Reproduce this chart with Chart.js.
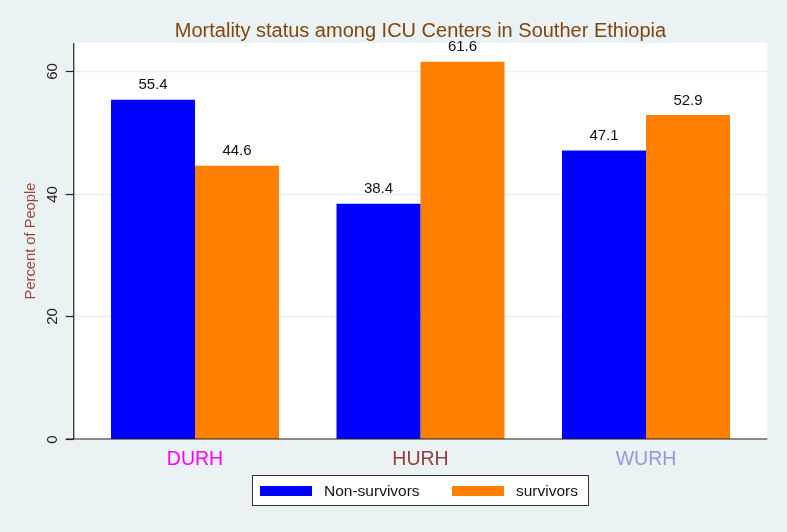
<!DOCTYPE html>
<html>
<head>
<meta charset="utf-8">
<script src="https://cdn.jsdelivr.net/npm/chart.js@4.4.0/dist/chart.umd.min.js"></script>
<style>
  html, body { margin: 0; padding: 0; background: #eaf2f3; }
  #wrap { width: 787px; height: 532px; }
</style>
</head>
<body>
<div id="wrap"><canvas id="chart"></canvas></div>
<script>
var centers = ['DURH', 'HURH', 'WURH'];
var centerColors = ['#ff00ff', '#8f3f3f', '#9a96dc'];
var nonSurvivors = [55.4, 38.4, 47.1];
var survivors = [44.6, 61.6, 52.9];
var yTicks = [0, 20, 40, 60];

var FONT = "'Liberation Sans', Arial, sans-serif";
var PLOT_PAD = 8.5; // white plot region sticks out a little past the category band

// stata-ish frame: white plot region, grid, axes, value labels, boxed legend
var stataPlugin = {
  id: 'stata',
  beforeDraw: function (chart) {
    var ctx = chart.ctx, a = chart.chartArea, y = chart.scales.y;
    var l = a.left - PLOT_PAD, r = a.right + PLOT_PAD;
    ctx.save();
    ctx.fillStyle = '#ffffff';
    ctx.fillRect(l, a.top, r - l, a.bottom - a.top);
    ctx.strokeStyle = '#e6eff1';
    ctx.lineWidth = 1.5;
    yTicks.forEach(function (v) {
      if (v === 0) return;
      var py = Math.round(y.getPixelForValue(v)) + 0.5;
      ctx.beginPath(); ctx.moveTo(l, py); ctx.lineTo(r, py); ctx.stroke();
    });
    ctx.restore();
  },
  afterDatasetsDraw: function (chart) {
    var ctx = chart.ctx, a = chart.chartArea, y = chart.scales.y;
    var l = a.left - PLOT_PAD, r = a.right + PLOT_PAD;
    ctx.save();
    // axes
    ctx.strokeStyle = '#222';
    ctx.lineWidth = 1.2;
    ctx.beginPath();
    ctx.moveTo(l, a.top); ctx.lineTo(l, a.bottom);
    ctx.moveTo(l - 8, a.bottom); ctx.lineTo(r, a.bottom);
    ctx.stroke();
    ctx.font = '15px ' + FONT;
    ctx.fillStyle = '#222';
    ctx.textAlign = 'center';
    ctx.textBaseline = 'middle';
    yTicks.forEach(function (v) {
      var py = Math.round(y.getPixelForValue(v)) + 0.5;
      ctx.beginPath(); ctx.moveTo(l - 8, py); ctx.lineTo(l, py); ctx.stroke();
      ctx.save();
      ctx.translate(l - 21, py);
      ctx.rotate(-Math.PI / 2);
      ctx.fillText(String(v), 0, 0);
      ctx.restore();
    });
    // value labels
    ctx.font = '15px ' + FONT;
    ctx.fillStyle = '#111';
    chart.data.datasets.forEach(function (ds, i) {
      chart.getDatasetMeta(i).data.forEach(function (bar, j) {
        ctx.fillText(ds.data[j].toFixed(1), bar.x, bar.y - 14.5);
      });
    });
    // legend
    var bx = 252, by = 475, bw = 336, bh = 30;
    ctx.fillStyle = '#ffffff';
    ctx.fillRect(bx, by, bw, bh);
    ctx.strokeStyle = '#333';
    ctx.lineWidth = 1;
    ctx.strokeRect(bx + 0.5, by + 0.5, bw, bh);
    var sx = [260, 452];
    ctx.textAlign = 'left';
    ctx.font = '15.5px ' + FONT;
    chart.data.datasets.forEach(function (ds, i) {
      ctx.fillStyle = ds.backgroundColor;
      ctx.fillRect(sx[i], 486, 52, 10);
      ctx.fillStyle = '#111';
      ctx.fillText(ds.label, sx[i] + 64, 491.5);
    });
    ctx.restore();
  }
};

var config = {
  type: 'bar',
  data: {
    labels: centers,
    datasets: [{
      label: 'Non-survivors',
      data: nonSurvivors,
      backgroundColor: '#0000ff',
      borderWidth: 0
    }, {
      label: 'survivors',
      data: survivors,
      backgroundColor: '#ff7f00',
      borderWidth: 0
    }]
  },
  options: {
    responsive: true,
    maintainAspectRatio: false,
    animation: false,
    categoryPercentage: 0.745,
    barPercentage: 1,
    layout: {
      padding: { left: 0, right: 28.25, top: 0, bottom: 53 }
    },
    plugins: {
      legend: { display: false },
      tooltip: { enabled: false },
      title: {
        display: true,
        fullSize: false,
        text: 'Mortality status among ICU Centers in Souther Ethiopia',
        color: '#80460f',
        font: { family: FONT, size: 20, weight: 'normal' },
        padding: { top: 19, bottom: 0 }
      }
    },
    scales: {
      x: {
        grid: { display: false },
        border: { display: false },
        ticks: {
          padding: 1,
          font: { family: FONT, size: 19.5 },
          color: function (c) { return centerColors[c.index]; }
        },
        afterFit: function (s) { s.height = 40; }
      },
      y: {
        min: 0,
        max: 64.65,
        grid: { display: false },
        border: { display: false },
        ticks: { display: false },
        afterBuildTicks: function (s) {
          s.ticks = yTicks.map(function (v) { return { value: v }; });
        },
        title: {
          display: true,
          text: 'Percent of People',
          color: '#a0433d',
          font: { family: FONT, size: 14.7 },
          padding: { top: 21.9, bottom: 0 }
        },
        afterFit: function (s) { s.width = 82.25; }
      }
    }
  },
  plugins: [stataPlugin]
};

window.onload = function () {
  var ctx = document.getElementById('chart').getContext('2d');
  window.myBar = new Chart(ctx, config);
};
</script>
</body>
</html>
